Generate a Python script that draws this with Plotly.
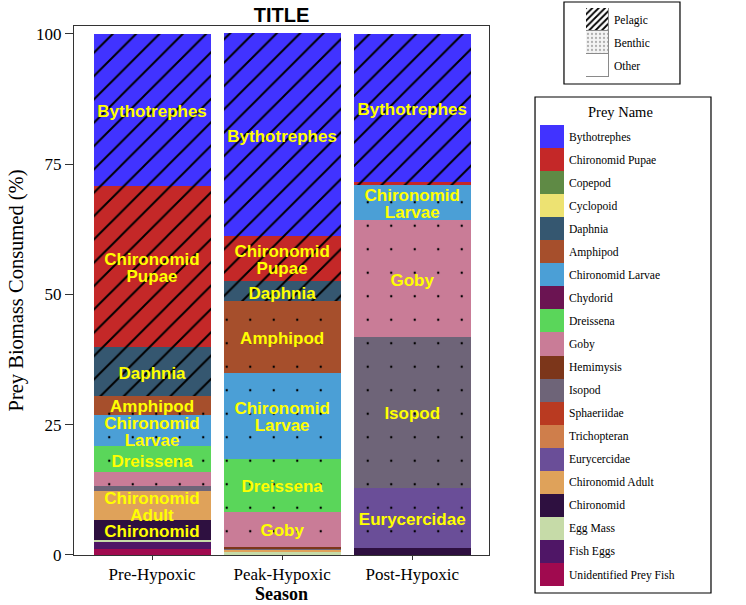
import plotly.graph_objects as go

seasons = ["Pre-Hypoxic", "Peak-Hypoxic", "Post-Hypoxic"]

prey_names = ["Bythotrephes", "Chironomid Pupae", "Copepod", "Cyclopoid", "Daphnia",
              "Amphipod", "Chironomid Larvae", "Chydorid", "Dreissena", "Goby",
              "Hemimysis", "Isopod", "Sphaeriidae", "Trichopteran", "Eurycercidae",
              "Chironomid Adult", "Chironomid", "Egg Mass", "Fish Eggs", "Unidentified Prey Fish"]

prey_colors = ["#4133FF", "#C42828", "#5F8A45", "#EDE272", "#355770",
               "#A64F2C", "#4B9FD6", "#6B1452", "#5AD65A", "#C97C97",
               "#7C361A", "#6E6478", "#B93A21", "#CF7E4B", "#6A4E98",
               "#DFA25A", "#2E1040", "#C6DBA8", "#4F1666", "#A00A4F"]

prey_habitat = ["Pelagic", "Pelagic", "Pelagic", "Pelagic", "Pelagic",
                "Benthic", "Benthic", "Pelagic", "Benthic", "Benthic",
                "Benthic", "Benthic", "Benthic", "Benthic", "Benthic",
                "Other", "Other", "Other", "Other", "Other"]

# percent of prey biomass consumed, per prey (same order as prey_names)
pct_pre = [29.3, 30.8, 0, 0, 9.4, 3.6, 6.1, 0, 5.0, 2.7,
           0, 0.8, 0, 0, 0, 5.6, 3.9, 0.4, 1.3, 1.15]
pct_peak = [38.8, 8.8, 0, 0, 3.8, 13.7, 16.5, 0, 10.2, 6.7,
            0.3, 0.3, 0, 0, 0, 0.4, 0, 0.6, 0, 0]
pct_post = [28.5, 0.5, 0, 0, 0, 0, 6.8, 0, 0, 22.3,
            0, 29.0, 0, 0, 11.5, 0, 1.4, 0, 0, 0]

habitat_names = ["Pelagic", "Benthic", "Other"]

label_threshold = 3.0

pattern_styles = {
    "Pelagic": dict(shape="/", size=16.5, solidity=0.12),
    "Benthic": dict(shape=".", size=23.5, solidity=0.008),
    "Other": dict(shape="", size=8, solidity=0.3),
}

season_values = [pct_pre, pct_peak, pct_post]

# layout constants
FIG_W, FIG_H = 746, 605
M_L, M_R, M_T, M_B = 74, 30, 2, 5
Y_RANGE = [0, 101.5]
Y_DOMAIN = [0.07525, 0.9599]
plot_h_px = (FIG_H - M_T - M_B) * (Y_DOMAIN[1] - Y_DOMAIN[0])
px_per_unit = plot_h_px / (Y_RANGE[1] - Y_RANGE[0])
line_gap_px = 17
half_gap = (line_gap_px / 2) / px_per_unit
text_drop = 3 / px_per_unit

fig = go.Figure()

# stacked bars: last prey at the bottom
for i in reversed(range(len(prey_names))):
    name = prey_names[i]
    vals = [pct_pre[i], pct_peak[i], pct_post[i]]
    ps = pattern_styles[prey_habitat[i]]
    fig.add_trace(go.Bar(
        x=seasons, y=vals, name=name, width=0.9,
        marker=dict(color=prey_colors[i], line=dict(width=0),
                    pattern=dict(shape=ps["shape"], size=ps["size"], solidity=ps["solidity"],
                                 fgcolor="black", bgcolor=prey_colors[i], fillmode="replace")),
        showlegend=False, hoverinfo="x+y+name",
    ))

# segment labels at the middle of each large enough segment (two-word names on two lines)
lab_x, lab_y, lab_t = [], [], []
for s, vals in zip(seasons, season_values):
    base = 0.0
    for i in reversed(range(len(prey_names))):
        v = vals[i]
        if v >= label_threshold:
            mid = base + v / 2 - text_drop
            words = prey_names[i].split(" ")
            if len(words) == 1:
                lab_x.append(s); lab_y.append(mid); lab_t.append(words[0])
            else:
                lab_x.append(s); lab_y.append(mid + half_gap); lab_t.append(words[0])
                lab_x.append(s); lab_y.append(mid - half_gap); lab_t.append(" ".join(words[1:]))
        base += v
fig.add_trace(go.Scatter(
    x=lab_x, y=lab_y, text=lab_t, mode="text", textposition="middle center",
    textfont=dict(family="Liberation Sans", size=17, color="#FFFF00", weight="bold"),
    showlegend=False, hoverinfo="skip",
))

# legend of prey colours drawn as a small subplot
fig.add_trace(go.Bar(
    x=[1] * len(prey_names), y=prey_names, orientation="h", width=1,
    marker=dict(color=prey_colors, line=dict(width=0)),
    xaxis="x2", yaxis="y2", showlegend=False, hoverinfo="y",
))

# legend of habitat patterns
fig.add_trace(go.Bar(
    x=[1] * len(habitat_names), y=habitat_names, orientation="h", width=1,
    marker=dict(color="white", line=dict(width=1, color="#8a8a8a"),
                pattern=dict(shape=["/", ".", ""], size=[4.5, 4, 4],
                             solidity=[0.4, 0.25, 0.1],
                             fgcolor=["black", "#b0b0b0", "white"],
                             bgcolor=["white", "#f4f4f4", "white"],
                             fillmode="replace")),
    xaxis="x3", yaxis="y3", showlegend=False, hoverinfo="y",
))

serif = "Liberation Serif"

fig.update_layout(
    width=FIG_W, height=FIG_H,
    margin=dict(l=M_L, r=M_R, t=M_T, b=M_B, autoexpand=False),
    paper_bgcolor="white", plot_bgcolor="white",
    barmode="stack", bargap=0,
    title=dict(text="<b>TITLE</b>", x=0.3232, xref="paper", xanchor="center",
               y=1 - 15 / FIG_H, yref="container", yanchor="middle",
               font=dict(family="Liberation Sans", size=20, color="black")),
    xaxis=dict(domain=[0, 0.6464], range=[-0.6, 2.59], type="category", automargin=False,
               showline=True, linecolor="#333333", linewidth=1, mirror=True,
               ticks="outside", ticklen=4, tickcolor="#333333",
               tickfont=dict(family=serif, size=17, color="black"),
               title=dict(text="<b>Season</b>", font=dict(family=serif, size=18, color="black"),
                          standoff=0),
               showgrid=False, zeroline=False),
    yaxis=dict(domain=Y_DOMAIN, range=Y_RANGE, automargin=False,
               tickvals=[0, 25, 50, 75, 100],
               showline=True, linecolor="#333333", linewidth=1, mirror=True,
               ticks="outside", ticklen=8, tickcolor="#333333",
               tickfont=dict(family=serif, size=17, color="black"),
               title=dict(text="Prey Biomass Consumed (%)",
                          font=dict(family=serif, size=20.5, color="black"), standoff=6),
               showgrid=False, zeroline=False),
    xaxis2=dict(domain=[0.7259, 0.7632], anchor="y2", range=[0, 1], visible=False,
                fixedrange=True),
    yaxis2=dict(domain=[0.0234, 0.7943], anchor="x2", type="category", automargin=False,
                categoryorder="array", categoryarray=prey_names, autorange="reversed",
                side="right", showline=False, ticks="", showgrid=False, zeroline=False,
                ticklabelstandoff=4,
                tickfont=dict(family=serif, size=11.6, color="black"), fixedrange=True),
    xaxis3=dict(domain=[0.7975, 0.8333], anchor="y3", range=[0, 1], visible=False,
                fixedrange=True),
    yaxis3=dict(domain=[0.8746, 0.9900], anchor="x3", type="category", automargin=False,
                categoryorder="array", categoryarray=habitat_names, autorange="reversed",
                side="right", showline=False, ticks="", showgrid=False, zeroline=False,
                ticklabelstandoff=4,
                tickfont=dict(family=serif, size=11.5, color="black"), fixedrange=True),
    shapes=[
        dict(type="rect", xref="paper", yref="paper", x0=0.7181, x1=0.9922, y0=0.0117, y1=0.8411,
             line=dict(color="black", width=1.2), fillcolor="rgba(0,0,0,0)", layer="below"),
        dict(type="rect", xref="paper", yref="paper", x0=0.7632, x1=0.9439, y0=0.8629, y1=1.0,
             line=dict(color="black", width=1.2), fillcolor="rgba(0,0,0,0)", layer="below"),
    ],
    annotations=[
        dict(text="Prey Name", xref="paper", yref="paper", x=0.852, y=0.816,
             xanchor="center", yanchor="middle", showarrow=False,
             font=dict(family=serif, size=14.5, color="black")),
    ],
)

fig.write_html("out.html", config={"displayModeBar": False},
               post_script="document.body.style.margin='0px';")
